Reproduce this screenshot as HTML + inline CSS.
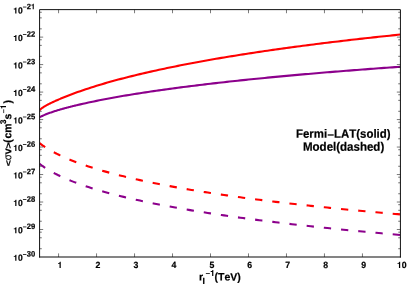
<!DOCTYPE html>
<html><head><meta charset="utf-8"><title>plot</title>
<style>
html,body{margin:0;padding:0;background:#fff;}
body{width:415px;height:291px;overflow:hidden;}
svg{display:block;will-change:transform;}
text{font-family:"Liberation Sans",sans-serif;font-weight:bold;fill:#000;stroke:#000;stroke-width:0.2px;text-rendering:geometricPrecision;font-kerning:none;}
</style></head><body>
<svg width="415" height="291" viewBox="0 0 415 291">
<rect x="0" y="0" width="415" height="291" fill="#ffffff"/>
<defs><clipPath id="cp"><rect x="39.58" y="9.62" width="360.84000000000003" height="247.38"/></clipPath></defs>

<g clip-path="url(#cp)" fill="none" stroke-linejoin="round">
<path d="M39.58,110.14 L40.22,109.53 L40.87,108.97 L41.51,108.46 L42.16,107.97 L42.80,107.52 L43.44,107.09 L44.09,106.69 L44.73,106.29 L45.37,105.92 L46.02,105.55 L46.66,105.20 L47.31,104.85 L47.95,104.51 L48.59,104.18 L49.24,103.85 L49.88,103.53 L50.52,103.21 L51.17,102.90 L51.81,102.59 L52.46,102.29 L53.10,101.98 L53.74,101.69 L54.39,101.39 L55.03,101.10 L55.67,100.81 L56.32,100.52 L56.96,100.23 L57.61,99.95 L58.25,99.67 L58.89,99.39 L59.54,99.12 L60.18,98.84 L60.82,98.57 L61.47,98.30 L62.11,98.03 L62.76,97.76 L63.40,97.50 L64.04,97.24 L64.69,96.98 L65.33,96.72 L65.98,96.46 L66.62,96.20 L67.26,95.95 L67.91,95.70 L68.55,95.45 L69.19,95.20 L69.84,94.95 L70.48,94.71 L71.13,94.46 L71.77,94.22 L72.41,93.98 L73.06,93.74 L73.70,93.50 L74.34,93.26 L74.99,93.03 L75.63,92.79 L76.28,92.56 L76.92,92.33 L77.56,92.10 L80.28,91.14 L82.99,90.20 L85.70,89.29 L88.42,88.39 L91.13,87.52 L93.84,86.66 L96.55,85.81 L99.27,84.99 L101.98,84.18 L104.69,83.38 L107.41,82.60 L110.12,81.83 L112.83,81.07 L115.55,80.33 L118.26,79.60 L120.97,78.88 L123.69,78.17 L126.40,77.47 L129.11,76.79 L131.82,76.11 L134.54,75.44 L137.25,74.78 L139.96,74.13 L142.68,73.49 L145.39,72.86 L148.10,72.24 L150.82,71.62 L153.53,71.02 L156.24,70.42 L158.96,69.83 L161.67,69.24 L164.38,68.66 L167.09,68.09 L169.81,67.53 L172.52,66.97 L175.23,66.42 L177.95,65.88 L180.66,65.34 L183.37,64.81 L186.09,64.28 L188.80,63.76 L191.51,63.24 L194.23,62.73 L196.94,62.23 L199.65,61.73 L202.36,61.24 L205.08,60.75 L207.79,60.26 L210.50,59.78 L213.22,59.31 L215.93,58.84 L218.64,58.37 L221.36,57.91 L224.07,57.46 L226.78,57.00 L229.50,56.55 L232.21,56.11 L234.92,55.67 L237.64,55.23 L240.35,54.80 L243.06,54.37 L245.77,53.95 L248.49,53.53 L251.20,53.11 L253.91,52.70 L256.63,52.29 L259.34,51.88 L262.05,51.48 L264.77,51.08 L267.48,50.69 L270.19,50.29 L272.91,49.90 L275.62,49.52 L278.33,49.13 L281.04,48.75 L283.76,48.38 L286.47,48.00 L289.18,47.63 L291.90,47.26 L294.61,46.90 L297.32,46.54 L300.04,46.18 L302.75,45.82 L305.46,45.47 L308.18,45.11 L310.89,44.77 L313.60,44.42 L316.31,44.08 L319.03,43.74 L321.74,43.40 L324.45,43.06 L327.17,42.73 L329.88,42.40 L332.59,42.07 L335.31,41.74 L338.02,41.42 L340.73,41.10 L343.45,40.78 L346.16,40.46 L348.87,40.14 L351.58,39.83 L354.30,39.52 L357.01,39.21 L359.72,38.91 L362.44,38.60 L365.15,38.30 L367.86,38.00 L370.58,37.70 L373.29,37.41 L376.00,37.11 L378.72,36.82 L381.43,36.53 L384.14,36.24 L386.85,35.95 L389.57,35.67 L392.28,35.39 L394.99,35.11 L397.71,34.83 L400.42,34.55" stroke="#ff0000" stroke-width="2.1"/>
<path d="M39.58,117.26 L40.22,116.93 L40.87,116.61 L41.51,116.30 L42.16,115.99 L42.80,115.70 L43.44,115.41 L44.09,115.13 L44.73,114.85 L45.37,114.58 L46.02,114.32 L46.66,114.06 L47.31,113.81 L47.95,113.57 L48.59,113.32 L49.24,113.09 L49.88,112.85 L50.52,112.62 L51.17,112.40 L51.81,112.17 L52.46,111.95 L53.10,111.74 L53.74,111.53 L54.39,111.32 L55.03,111.11 L55.67,110.90 L56.32,110.70 L56.96,110.50 L57.61,110.31 L58.25,110.11 L58.89,109.92 L59.54,109.73 L60.18,109.54 L60.82,109.35 L61.47,109.17 L62.11,108.98 L62.76,108.80 L63.40,108.62 L64.04,108.45 L64.69,108.27 L65.33,108.09 L65.98,107.92 L66.62,107.75 L67.26,107.58 L67.91,107.41 L68.55,107.24 L69.19,107.07 L69.84,106.91 L70.48,106.74 L71.13,106.58 L71.77,106.42 L72.41,106.26 L73.06,106.10 L73.70,105.94 L74.34,105.78 L74.99,105.63 L75.63,105.47 L76.28,105.32 L76.92,105.16 L77.56,105.01 L80.28,104.38 L82.99,103.76 L85.70,103.16 L88.42,102.57 L91.13,101.99 L93.84,101.42 L96.55,100.87 L99.27,100.33 L101.98,99.79 L104.69,99.27 L107.41,98.75 L110.12,98.25 L112.83,97.75 L115.55,97.26 L118.26,96.78 L120.97,96.31 L123.69,95.84 L126.40,95.39 L129.11,94.93 L131.82,94.49 L134.54,94.05 L137.25,93.62 L139.96,93.19 L142.68,92.77 L145.39,92.35 L148.10,91.94 L150.82,91.54 L153.53,91.14 L156.24,90.74 L158.96,90.35 L161.67,89.97 L164.38,89.59 L167.09,89.21 L169.81,88.84 L172.52,88.47 L175.23,88.11 L177.95,87.75 L180.66,87.39 L183.37,87.04 L186.09,86.69 L188.80,86.35 L191.51,86.01 L194.23,85.67 L196.94,85.34 L199.65,85.01 L202.36,84.68 L205.08,84.36 L207.79,84.04 L210.50,83.72 L213.22,83.40 L215.93,83.09 L218.64,82.78 L221.36,82.48 L224.07,82.17 L226.78,81.87 L229.50,81.58 L232.21,81.28 L234.92,80.99 L237.64,80.70 L240.35,80.41 L243.06,80.13 L245.77,79.84 L248.49,79.56 L251.20,79.29 L253.91,79.01 L256.63,78.74 L259.34,78.47 L262.05,78.20 L264.77,77.93 L267.48,77.67 L270.19,77.40 L272.91,77.14 L275.62,76.88 L278.33,76.63 L281.04,76.37 L283.76,76.12 L286.47,75.87 L289.18,75.62 L291.90,75.37 L294.61,75.13 L297.32,74.89 L300.04,74.64 L302.75,74.40 L305.46,74.17 L308.18,73.93 L310.89,73.70 L313.60,73.46 L316.31,73.23 L319.03,73.00 L321.74,72.77 L324.45,72.55 L327.17,72.32 L329.88,72.10 L332.59,71.88 L335.31,71.66 L338.02,71.44 L340.73,71.22 L343.45,71.00 L346.16,70.79 L348.87,70.58 L351.58,70.36 L354.30,70.15 L357.01,69.94 L359.72,69.74 L362.44,69.53 L365.15,69.33 L367.86,69.12 L370.58,68.92 L373.29,68.72 L376.00,68.52 L378.72,68.32 L381.43,68.12 L384.14,67.92 L386.85,67.73 L389.57,67.54 L392.28,67.34 L394.99,67.15 L397.71,66.96 L400.42,66.77" stroke="#8c008c" stroke-width="2.1"/>
<path d="M39.58,143.17 L40.22,143.66 L40.87,144.15 L41.51,144.62 L42.16,145.08 L42.80,145.54 L43.44,145.99 L44.09,146.42 L44.73,146.85 L45.37,147.27 L46.02,147.69 L46.66,148.10 L47.31,148.50 L47.95,148.89 L48.59,149.28 L49.24,149.66 L49.88,150.04 L50.52,150.41 L51.17,150.78 L51.81,151.14 L52.46,151.49 L53.10,151.84 L53.74,152.19 L54.39,152.53 L55.03,152.87 L55.67,153.20 L56.32,153.53 L56.96,153.85 L57.61,154.17 L58.25,154.49 L58.89,154.81 L59.54,155.12 L60.18,155.42 L60.82,155.73 L61.47,156.03 L62.11,156.32 L62.76,156.62 L63.40,156.91 L64.04,157.19 L64.69,157.48 L65.33,157.76 L65.98,158.04 L66.62,158.32 L67.26,158.59 L67.91,158.86 L68.55,159.13 L69.19,159.40 L69.84,159.66 L70.48,159.92 L71.13,160.18 L71.77,160.44 L72.41,160.69 L73.06,160.95 L73.70,161.20 L74.34,161.45 L74.99,161.69 L75.63,161.94 L76.28,162.18 L76.92,162.42 L77.56,162.66 L80.28,163.65 L82.99,164.60 L85.70,165.53 L88.42,166.43 L91.13,167.31 L93.84,168.16 L96.55,168.99 L99.27,169.81 L101.98,170.60 L104.69,171.37 L107.41,172.13 L110.12,172.87 L112.83,173.59 L115.55,174.30 L118.26,174.99 L120.97,175.67 L123.69,176.34 L126.40,177.00 L129.11,177.64 L131.82,178.27 L134.54,178.89 L137.25,179.50 L139.96,180.10 L142.68,180.69 L145.39,181.27 L148.10,181.84 L150.82,182.40 L153.53,182.96 L156.24,183.50 L158.96,184.04 L161.67,184.57 L164.38,185.09 L167.09,185.60 L169.81,186.11 L172.52,186.61 L175.23,187.10 L177.95,187.59 L180.66,188.07 L183.37,188.54 L186.09,189.01 L188.80,189.47 L191.51,189.93 L194.23,190.38 L196.94,190.83 L199.65,191.27 L202.36,191.70 L205.08,192.13 L207.79,192.56 L210.50,192.98 L213.22,193.39 L215.93,193.80 L218.64,194.21 L221.36,194.61 L224.07,195.01 L226.78,195.40 L229.50,195.79 L232.21,196.17 L234.92,196.55 L237.64,196.93 L240.35,197.30 L243.06,197.67 L245.77,198.04 L248.49,198.40 L251.20,198.76 L253.91,199.12 L256.63,199.47 L259.34,199.81 L262.05,200.16 L264.77,200.50 L267.48,200.84 L270.19,201.18 L272.91,201.51 L275.62,201.84 L278.33,202.16 L281.04,202.49 L283.76,202.81 L286.47,203.13 L289.18,203.44 L291.90,203.75 L294.61,204.06 L297.32,204.37 L300.04,204.67 L302.75,204.97 L305.46,205.27 L308.18,205.57 L310.89,205.86 L313.60,206.16 L316.31,206.45 L319.03,206.73 L321.74,207.02 L324.45,207.30 L327.17,207.58 L329.88,207.86 L332.59,208.13 L335.31,208.41 L338.02,208.68 L340.73,208.95 L343.45,209.22 L346.16,209.48 L348.87,209.74 L351.58,210.00 L354.30,210.26 L357.01,210.52 L359.72,210.78 L362.44,211.03 L365.15,211.28 L367.86,211.53 L370.58,211.78 L373.29,212.03 L376.00,212.27 L378.72,212.51 L381.43,212.75 L384.14,212.99 L386.85,213.23 L389.57,213.47 L392.28,213.70 L394.99,213.93 L397.71,214.16 L400.42,214.39" stroke="#ff0000" stroke-width="2.1" stroke-dasharray="7.3 9.995" stroke-dashoffset="0.4"/>
<path d="M39.58,163.79 L40.22,164.29 L40.87,164.78 L41.51,165.26 L42.16,165.73 L42.80,166.19 L43.44,166.64 L44.09,167.09 L44.73,167.52 L45.37,167.95 L46.02,168.36 L46.66,168.77 L47.31,169.18 L47.95,169.58 L48.59,169.97 L49.24,170.35 L49.88,170.73 L50.52,171.10 L51.17,171.47 L51.81,171.83 L52.46,172.19 L53.10,172.54 L53.74,172.88 L54.39,173.23 L55.03,173.56 L55.67,173.90 L56.32,174.23 L56.96,174.55 L57.61,174.87 L58.25,175.19 L58.89,175.50 L59.54,175.81 L60.18,176.12 L60.82,176.42 L61.47,176.72 L62.11,177.02 L62.76,177.31 L63.40,177.60 L64.04,177.89 L64.69,178.17 L65.33,178.45 L65.98,178.73 L66.62,179.00 L67.26,179.28 L67.91,179.55 L68.55,179.81 L69.19,180.08 L69.84,180.34 L70.48,180.60 L71.13,180.86 L71.77,181.12 L72.41,181.37 L73.06,181.62 L73.70,181.87 L74.34,182.12 L74.99,182.36 L75.63,182.60 L76.28,182.84 L76.92,183.08 L77.56,183.32 L80.28,184.30 L82.99,185.25 L85.70,186.17 L88.42,187.06 L91.13,187.93 L93.84,188.78 L96.55,189.60 L99.27,190.40 L101.98,191.19 L104.69,191.95 L107.41,192.70 L110.12,193.43 L112.83,194.15 L115.55,194.85 L118.26,195.54 L120.97,196.21 L123.69,196.87 L126.40,197.52 L129.11,198.16 L131.82,198.78 L134.54,199.40 L137.25,200.00 L139.96,200.59 L142.68,201.18 L145.39,201.75 L148.10,202.32 L150.82,202.87 L153.53,203.42 L156.24,203.96 L158.96,204.49 L161.67,205.02 L164.38,205.53 L167.09,206.04 L169.81,206.55 L172.52,207.04 L175.23,207.53 L177.95,208.01 L180.66,208.49 L183.37,208.96 L186.09,209.43 L188.80,209.89 L191.51,210.34 L194.23,210.79 L196.94,211.23 L199.65,211.67 L202.36,212.10 L205.08,212.53 L207.79,212.95 L210.50,213.37 L213.22,213.79 L215.93,214.19 L218.64,214.60 L221.36,215.00 L224.07,215.40 L226.78,215.79 L229.50,216.18 L232.21,216.56 L234.92,216.94 L237.64,217.32 L240.35,217.69 L243.06,218.06 L245.77,218.43 L248.49,218.79 L251.20,219.15 L253.91,219.51 L256.63,219.86 L259.34,220.21 L262.05,220.55 L264.77,220.90 L267.48,221.24 L270.19,221.57 L272.91,221.91 L275.62,222.24 L278.33,222.57 L281.04,222.89 L283.76,223.21 L286.47,223.53 L289.18,223.85 L291.90,224.17 L294.61,224.48 L297.32,224.79 L300.04,225.09 L302.75,225.40 L305.46,225.70 L308.18,226.00 L310.89,226.30 L313.60,226.59 L316.31,226.89 L319.03,227.18 L321.74,227.46 L324.45,227.75 L327.17,228.03 L329.88,228.32 L332.59,228.60 L335.31,228.87 L338.02,229.15 L340.73,229.42 L343.45,229.70 L346.16,229.96 L348.87,230.23 L351.58,230.50 L354.30,230.76 L357.01,231.02 L359.72,231.28 L362.44,231.54 L365.15,231.80 L367.86,232.06 L370.58,232.31 L373.29,232.56 L376.00,232.81 L378.72,233.06 L381.43,233.30 L384.14,233.55 L386.85,233.79 L389.57,234.03 L392.28,234.27 L394.99,234.51 L397.71,234.75 L400.42,234.98" stroke="#8c008c" stroke-width="2.1" stroke-dasharray="7.3 9.995" stroke-dashoffset="0.4"/>
</g>
<path d="M58.57,257.0 v-3.6 M58.57,9.62 v3.6 M96.55,257.0 v-3.6 M96.55,9.62 v3.6 M134.54,257.0 v-3.6 M134.54,9.62 v3.6 M172.52,257.0 v-3.6 M172.52,9.62 v3.6 M210.50,257.0 v-3.6 M210.50,9.62 v3.6 M248.49,257.0 v-3.6 M248.49,9.62 v3.6 M286.47,257.0 v-3.6 M286.47,9.62 v3.6 M324.45,257.0 v-3.6 M324.45,9.62 v3.6 M362.44,257.0 v-3.6 M362.44,9.62 v3.6" stroke="#222" stroke-width="0.6" fill="none"/>
<path d="M39.58,229.51 h3.6 M400.42,229.51 h-3.6 M39.58,202.03 h3.6 M400.42,202.03 h-3.6 M39.58,174.54 h3.6 M400.42,174.54 h-3.6 M39.58,147.05 h3.6 M400.42,147.05 h-3.6 M39.58,119.57 h3.6 M400.42,119.57 h-3.6 M39.58,92.08 h3.6 M400.42,92.08 h-3.6 M39.58,64.59 h3.6 M400.42,64.59 h-3.6 M39.58,37.11 h3.6 M400.42,37.11 h-3.6" stroke="#222" stroke-width="0.6" fill="none"/>
<path d="M39.58,248.73 h2.2 M400.42,248.73 h-2.2 M39.58,237.79 h2.2 M400.42,237.79 h-2.2 M39.58,232.18 h2.2 M400.42,232.18 h-2.2 M39.58,221.24 h2.2 M400.42,221.24 h-2.2 M39.58,210.30 h2.2 M400.42,210.30 h-2.2 M39.58,204.69 h2.2 M400.42,204.69 h-2.2 M39.58,193.75 h2.2 M400.42,193.75 h-2.2 M39.58,182.81 h2.2 M400.42,182.81 h-2.2 M39.58,177.20 h2.2 M400.42,177.20 h-2.2 M39.58,166.27 h2.2 M400.42,166.27 h-2.2 M39.58,155.33 h2.2 M400.42,155.33 h-2.2 M39.58,149.72 h2.2 M400.42,149.72 h-2.2 M39.58,138.78 h2.2 M400.42,138.78 h-2.2 M39.58,127.84 h2.2 M400.42,127.84 h-2.2 M39.58,122.23 h2.2 M400.42,122.23 h-2.2 M39.58,111.29 h2.2 M400.42,111.29 h-2.2 M39.58,100.35 h2.2 M400.42,100.35 h-2.2 M39.58,94.74 h2.2 M400.42,94.74 h-2.2 M39.58,83.81 h2.2 M400.42,83.81 h-2.2 M39.58,72.87 h2.2 M400.42,72.87 h-2.2 M39.58,67.26 h2.2 M400.42,67.26 h-2.2 M39.58,56.32 h2.2 M400.42,56.32 h-2.2 M39.58,45.38 h2.2 M400.42,45.38 h-2.2 M39.58,39.77 h2.2 M400.42,39.77 h-2.2 M39.58,28.83 h2.2 M400.42,28.83 h-2.2 M39.58,17.89 h2.2 M400.42,17.89 h-2.2 M39.58,12.28 h2.2 M400.42,12.28 h-2.2" stroke="#222" stroke-width="0.7" opacity="0.9" fill="none"/>
<path d="M39.58,257.5 V9.62 H400.42 V257.5" fill="none" stroke="#111" stroke-width="1" stroke-linejoin="miter"/>
<path d="M39.08,257.0 H400.92" fill="none" stroke="#0a0a0a" stroke-width="1.06"/>
<path d="M238,0 L238,-472 L69,-472 L69,-569 C190,-569 262,-612 285,-709 L380,-709 L380,0 Z" transform="translate(57.45,268.00) scale(0.00870,0.00878)"/>
<text transform="translate(95.44,268.00) rotate(0.1) scale(1,1.04)" font-size="8.7">2</text>
<text transform="translate(133.42,268.00) rotate(0.1) scale(1,1.04)" font-size="8.7">3</text>
<text transform="translate(171.40,268.00) rotate(0.1) scale(1,1.04)" font-size="8.7">4</text>
<text transform="translate(209.39,268.00) rotate(0.1) scale(1,1.04)" font-size="8.7">5</text>
<text transform="translate(247.37,268.00) rotate(0.1) scale(1,1.04)" font-size="8.7">6</text>
<text transform="translate(285.35,268.00) rotate(0.1) scale(1,1.04)" font-size="8.7">7</text>
<text transform="translate(323.34,268.00) rotate(0.1) scale(1,1.04)" font-size="8.7">8</text>
<text transform="translate(361.32,268.00) rotate(0.1) scale(1,1.04)" font-size="8.7">9</text>
<path d="M238,0 L238,-472 L69,-472 L69,-569 C190,-569 262,-612 285,-709 L380,-709 L380,0 Z" transform="translate(396.88,268.00) scale(0.00870,0.00878)"/><text transform="translate(401.72,268.00) rotate(0.1) scale(1,1.04)" font-size="8.7">0</text>
<path d="M238,0 L238,-472 L69,-472 L69,-569 C190,-569 262,-612 285,-709 L380,-709 L380,0 Z" transform="translate(13.20,260.85) scale(0.00850,0.00858)"/><text transform="translate(17.92,260.85) rotate(0.1) scale(1,1.04)" font-size="8.5">0</text>
<rect x="22.93" y="254.03" width="3.50" height="0.79"/><text transform="translate(26.65,256.60) rotate(0.1) scale(1,1.04)" font-size="7.6">3</text><text transform="translate(30.88,256.60) rotate(0.1) scale(1,1.04)" font-size="7.6">0</text>
<path d="M238,0 L238,-472 L69,-472 L69,-569 C190,-569 262,-612 285,-709 L380,-709 L380,0 Z" transform="translate(13.20,233.36) scale(0.00850,0.00858)"/><text transform="translate(17.92,233.36) rotate(0.1) scale(1,1.04)" font-size="8.5">0</text>
<rect x="22.93" y="226.54" width="3.50" height="0.79"/><text transform="translate(26.65,229.11) rotate(0.1) scale(1,1.04)" font-size="7.6">2</text><text transform="translate(30.88,229.11) rotate(0.1) scale(1,1.04)" font-size="7.6">9</text>
<path d="M238,0 L238,-472 L69,-472 L69,-569 C190,-569 262,-612 285,-709 L380,-709 L380,0 Z" transform="translate(13.20,205.88) scale(0.00850,0.00858)"/><text transform="translate(17.92,205.88) rotate(0.1) scale(1,1.04)" font-size="8.5">0</text>
<rect x="22.93" y="199.06" width="3.50" height="0.79"/><text transform="translate(26.65,201.63) rotate(0.1) scale(1,1.04)" font-size="7.6">2</text><text transform="translate(30.88,201.63) rotate(0.1) scale(1,1.04)" font-size="7.6">8</text>
<path d="M238,0 L238,-472 L69,-472 L69,-569 C190,-569 262,-612 285,-709 L380,-709 L380,0 Z" transform="translate(13.20,178.39) scale(0.00850,0.00858)"/><text transform="translate(17.92,178.39) rotate(0.1) scale(1,1.04)" font-size="8.5">0</text>
<rect x="22.93" y="171.57" width="3.50" height="0.79"/><text transform="translate(26.65,174.14) rotate(0.1) scale(1,1.04)" font-size="7.6">2</text><text transform="translate(30.88,174.14) rotate(0.1) scale(1,1.04)" font-size="7.6">7</text>
<path d="M238,0 L238,-472 L69,-472 L69,-569 C190,-569 262,-612 285,-709 L380,-709 L380,0 Z" transform="translate(13.20,150.90) scale(0.00850,0.00858)"/><text transform="translate(17.92,150.90) rotate(0.1) scale(1,1.04)" font-size="8.5">0</text>
<rect x="22.93" y="144.08" width="3.50" height="0.79"/><text transform="translate(26.65,146.65) rotate(0.1) scale(1,1.04)" font-size="7.6">2</text><text transform="translate(30.88,146.65) rotate(0.1) scale(1,1.04)" font-size="7.6">6</text>
<path d="M238,0 L238,-472 L69,-472 L69,-569 C190,-569 262,-612 285,-709 L380,-709 L380,0 Z" transform="translate(13.20,123.42) scale(0.00850,0.00858)"/><text transform="translate(17.92,123.42) rotate(0.1) scale(1,1.04)" font-size="8.5">0</text>
<rect x="22.93" y="116.60" width="3.50" height="0.79"/><text transform="translate(26.65,119.17) rotate(0.1) scale(1,1.04)" font-size="7.6">2</text><text transform="translate(30.88,119.17) rotate(0.1) scale(1,1.04)" font-size="7.6">5</text>
<path d="M238,0 L238,-472 L69,-472 L69,-569 C190,-569 262,-612 285,-709 L380,-709 L380,0 Z" transform="translate(13.20,95.93) scale(0.00850,0.00858)"/><text transform="translate(17.92,95.93) rotate(0.1) scale(1,1.04)" font-size="8.5">0</text>
<rect x="22.93" y="89.11" width="3.50" height="0.79"/><text transform="translate(26.65,91.68) rotate(0.1) scale(1,1.04)" font-size="7.6">2</text><text transform="translate(30.88,91.68) rotate(0.1) scale(1,1.04)" font-size="7.6">4</text>
<path d="M238,0 L238,-472 L69,-472 L69,-569 C190,-569 262,-612 285,-709 L380,-709 L380,0 Z" transform="translate(13.20,68.44) scale(0.00850,0.00858)"/><text transform="translate(17.92,68.44) rotate(0.1) scale(1,1.04)" font-size="8.5">0</text>
<rect x="22.93" y="61.62" width="3.50" height="0.79"/><text transform="translate(26.65,64.19) rotate(0.1) scale(1,1.04)" font-size="7.6">2</text><text transform="translate(30.88,64.19) rotate(0.1) scale(1,1.04)" font-size="7.6">3</text>
<path d="M238,0 L238,-472 L69,-472 L69,-569 C190,-569 262,-612 285,-709 L380,-709 L380,0 Z" transform="translate(13.20,40.96) scale(0.00850,0.00858)"/><text transform="translate(17.92,40.96) rotate(0.1) scale(1,1.04)" font-size="8.5">0</text>
<rect x="22.93" y="34.14" width="3.50" height="0.79"/><text transform="translate(26.65,36.71) rotate(0.1) scale(1,1.04)" font-size="7.6">2</text><text transform="translate(30.88,36.71) rotate(0.1) scale(1,1.04)" font-size="7.6">2</text>
<path d="M238,0 L238,-472 L69,-472 L69,-569 C190,-569 262,-612 285,-709 L380,-709 L380,0 Z" transform="translate(13.20,13.47) scale(0.00850,0.00858)"/><text transform="translate(17.92,13.47) rotate(0.1) scale(1,1.04)" font-size="8.5">0</text>
<rect x="22.93" y="6.65" width="3.50" height="0.79"/><text transform="translate(26.65,9.22) rotate(0.1) scale(1,1.04)" font-size="7.6">2</text><path d="M238,0 L238,-472 L69,-472 L69,-569 C190,-569 262,-612 285,-709 L380,-709 L380,0 Z" transform="translate(30.88,9.22) scale(0.00760,0.00767)"/>
<text transform="translate(198.90,280.60) rotate(0.1) scale(1,1.04)" font-size="10.5" text-anchor="start" >r</text>
<text transform="translate(202.40,283.90) rotate(0.1) scale(1,1.04)" font-size="8.5" text-anchor="start" >I</text>
<rect x="205.85" y="273.22" width="4.00" height="0.80"/><path d="M238,0 L238,-472 L69,-472 L69,-569 C190,-569 262,-612 285,-709 L380,-709 L380,0 Z" transform="translate(210.10,276.00) scale(0.00850,0.00858)"/>
<text transform="translate(214.60,280.60) rotate(0.1) scale(1,1.04)" font-size="10.5" text-anchor="start" >(TeV)</text>
<g transform="translate(11.3,166.2) rotate(-90)">
<text transform="translate(0.00,0.00) rotate(0.1) scale(1,0.82)" font-size="10.42" text-anchor="start" >&lt;</text>
<text transform="translate(5.94,0.00) rotate(0.1) scale(0.93,1.04)" font-size="10.42" text-anchor="start" style="font-weight:normal;stroke-width:0.12px">σ</text>
<text transform="translate(11.87,0.00) rotate(0.1) scale(1,1.04)" font-size="10.42" text-anchor="start" >v</text>
<text transform="translate(17.66,0.00) rotate(0.1) scale(1,0.82)" font-size="10.42" text-anchor="start" >&gt;</text>
<text transform="translate(23.45,0.00) rotate(0.1) scale(1,1.04)" font-size="10.42" text-anchor="start" >(</text>
<text transform="translate(27.72,0.00) rotate(0.1) scale(1,1.04)" font-size="10.42" text-anchor="start" >c</text>
<text transform="translate(33.51,0.00) rotate(0.1) scale(1,1.04)" font-size="10.42" text-anchor="start" >m</text>
<text transform="translate(42.28,-5.30) rotate(0.1) scale(1,1.04)" font-size="8.0">3</text>
<text transform="translate(46.80,0.00) rotate(0.1) scale(1,1.04)" font-size="10.42" text-anchor="start" >s</text>
<rect x="53.14" y="-7.92" width="3.76" height="0.75"/><path d="M238,0 L238,-472 L69,-472 L69,-569 C190,-569 262,-612 285,-709 L380,-709 L380,0 Z" transform="translate(57.14,-5.30) scale(0.00800,0.00807)"/>
<text transform="translate(62.69,0.00) rotate(0.1) scale(1,1.04)" font-size="10.42" text-anchor="start" >)</text>
</g>
<text transform="translate(295.95,137.70) rotate(0.1) scale(1,1.055)" font-size="11.43" text-anchor="start" >Fermi</text>
<rect x="327.72" y="134.35" width="5.99" height="1.27"/>
<text transform="translate(334.05,137.70) rotate(0.1) scale(1,1.055)" font-size="11.43" text-anchor="start" >LAT(solid)</text>
<text transform="translate(343.60,150.75) rotate(0.1) scale(1,1.055)" font-size="11.53" text-anchor="middle" >Model(dashed)</text>
</svg></body></html>
